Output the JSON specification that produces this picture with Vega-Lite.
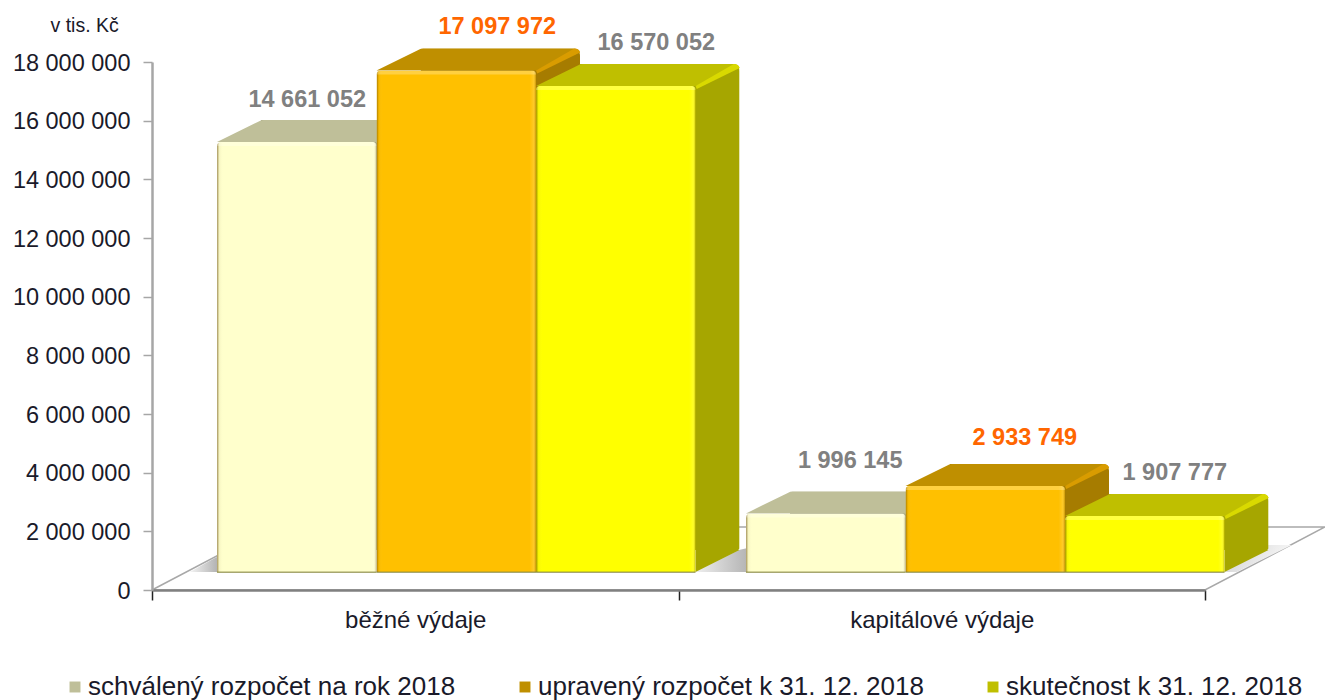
{
"$schema":"https://vega.github.io/schema/vega-lite/v6.json",
"width":1053,"height":528,
"autosize":"none",
"padding":{"left":152,"top":62,"right":120,"bottom":110},
"background":"white",
"config":{"view":{"stroke":null},"locale":{"number":{"decimal":",","thousands":" ","grouping":[3],"currency":["","Kč"]}},"font":"Liberation Sans"},
"datasets":{"d":[
{"category":"běžné výdaje","series":"schválený rozpočet na rok 2018","value":14661052},
{"category":"běžné výdaje","series":"upravený rozpočet k 31. 12. 2018","value":17097972},
{"category":"běžné výdaje","series":"skutečnost k 31. 12. 2018","value":16570052},
{"category":"kapitálové výdaje","series":"schválený rozpočet na rok 2018","value":1996145},
{"category":"kapitálové výdaje","series":"upravený rozpočet k 31. 12. 2018","value":2933749},
{"category":"kapitálové výdaje","series":"skutečnost k 31. 12. 2018","value":1907777}
]},
"data":{"name":"d"},
"resolve":{"scale":{"color":"independent","x":"independent","y":"independent"}},
"encoding":{
"x":{"field":"category","type":"nominal","axis":null,"scale":{"domain":["běžné výdaje","kapitálové výdaje"],"range":[39.75,1097.75],"paddingInner":0,"paddingOuter":0}},
"xOffset":{"field":"series","type":"nominal","scale":{"domain":["schválený rozpočet na rok 2018","upravený rozpočet k 31. 12. 2018","skutečnost k 31. 12. 2018"],"range":[0,529],"paddingInner":0,"paddingOuter":0.158}},
"y":{"field":"value","type":"quantitative","axis":null,"scale":{"domain":[0,18000000],"nice":false}}
},
"layer":[
{"transform":[{"filter":"datum.value===14661052"}],
 "mark":{"type":"point","filled":true,"opacity":1,"size":4,"fill":"white","stroke":"#a8a8a8","strokeWidth":1.5,"shape":"M-105,0L948,0L1068,-63L15,-63Z"},
 "encoding":{
 "x":{"field":"category","type":"nominal","scale":{"domain":["běžné výdaje","kapitálové výdaje"],"paddingInner":0,"paddingOuter":0},
 "axis":{"title":null,"labelAngle":0,"labelFontSize":24,"labelColor":"#1a1a2a","labelPadding":8,"labelLimit":400,"tickBand":"extent","tickSize":10,"tickColor":"#222222","tickWidth":1.5,"domainColor":"#808080","domainWidth":2.5,"zindex":1}},
 "y":{"datum":0,"type":"quantitative","scale":{"domain":[0,18000000],"nice":false},
 "axis":{"values":[0,2000000,4000000,6000000,8000000,10000000,12000000,14000000,16000000,18000000],"format":",d","title":"v tis. Kč","titleAngle":0,"titleX":-102,"titleY":-27,"titleFontSize":19.5,"titleFontWeight":"normal","titleColor":"#1a1a2a","titleAlign":"left","labelFontSize":23.5,"labelColor":"#1a1a2a","labelPadding":13,"labelOffset":1,"grid":false,"tickSize":9,"tickColor":"#a6a6a6","tickWidth":1.5,"domainColor":"#a6a6a6","domainWidth":2.5,"zindex":1}}}},
{"transform":[{"filter":"datum.value===14661052"}],
 "mark":{"type":"point","filled":true,"opacity":1,"size":4,"strokeWidth":0,"fill":{"gradient":"linear","x1":0,"y1":0,"x2":1,"y2":0,"stops":[{"offset":0,"color":"#f4f4f4"},{"offset":1,"color":"#a8a8a8"}]},"shape":"M-107,-18L-80,-33L-75,-18Z"},
 "encoding":{"y":{"datum":0,"type":"quantitative","axis":null,"scale":{"domain":[0,18000000],"nice":false}}}},
{"transform":[{"filter":"datum.value===14661052"}],
 "mark":{"type":"point","filled":true,"opacity":1,"size":4,"strokeWidth":0,"fill":{"gradient":"linear","x1":0,"y1":0,"x2":1,"y2":0,"stops":[{"offset":0,"color":"#f0f0f0"},{"offset":1,"color":"#b4b4b4"}]},"shape":"M398,-18L442,-40L451,-42L451,-18Z"},
 "encoding":{"y":{"datum":0,"type":"quantitative","axis":null,"scale":{"domain":[0,18000000],"nice":false}}}},
{"transform":[{"filter":"datum.value===14661052"}],
 "mark":{"type":"point","filled":true,"opacity":1,"size":4,"strokeWidth":0,"fill":{"gradient":"linear","x1":0,"y1":0,"x2":1,"y2":0.3,"stops":[{"offset":0,"color":"#d0d0d0"},{"offset":1,"color":"#f8f8f8"}]},"shape":"M927,-18L971,-45L995,-45L940,-18Z"},
 "encoding":{"y":{"datum":0,"type":"quantitative","axis":null,"scale":{"domain":[0,18000000],"nice":false}}}},
{"mark":{"type":"bar","cornerRadiusTopRight":7,"cornerRadiusBottomRight":2},
 "encoding":{"x":{"field":"category","type":"nominal","axis":null,"scale":{"domain":["běžné výdaje","kapitálové výdaje"],"range":[83.75,1141.75],"paddingInner":0,"paddingOuter":0}},
 "y":{"field":"value","type":"quantitative","axis":null,"scale":{"domain":[-1363636,16636364],"nice":false,"zero":false}},
 "color":{"field":"series","type":"nominal","legend":null,"scale":{"domain":["schválený rozpočet na rok 2018","upravený rozpočet k 31. 12. 2018","skutečnost k 31. 12. 2018"],"range":["#A6A685","#A67C00","#A6A600"]}}}},
{"mark":{"type":"point","filled":true,"opacity":1,"size":4,"strokeWidth":0,"shape":"M79.75,-18L123.75,-40L79.75,-40Z"},
 "encoding":{"y":{"datum":0,"type":"quantitative","axis":null,"scale":{"domain":[0,18000000],"nice":false}},"color":{"field":"series","type":"nominal","legend":null,"scale":{"domain":["schválený rozpočet na rok 2018","upravený rozpočet k 31. 12. 2018","skutečnost k 31. 12. 2018"],"range":["#A6A685","#A67C00","#A6A600"]}}}},
{"mark":{"type":"point","filled":true,"opacity":1,"size":4,"strokeWidth":0,"shape":"M-79.75,-18L-39,-38Q-36,-40 -33,-40L117,-40Q123,-40 123.75,-36L79.75,-18Z"},
 "encoding":{"color":{"field":"series","type":"nominal","scale":{"domain":["schválený rozpočet na rok 2018","upravený rozpočet k 31. 12. 2018","skutečnost k 31. 12. 2018"],"range":["#BFBF99","#BF8F00","#BFBF00"]},
 "legend":{"title":null,"orient":"none","legendX":-90,"legendY":612,"direction":"horizontal","columns":3,"gridAlign":"none","columnPadding":56,"labelFontSize":26,"labelLimit":600,"labelColor":"#1a1a2a","labelOffset":0,"symbolType":"square","symbolSize":120,"symbolStrokeWidth":0,"symbolOpacity":1,"padding":0}}}},
{"mark":{"type":"point","filled":true,"opacity":1,"size":4,"strokeWidth":0,"shape":"M79.75,-18L118,-40Q123,-40 123.75,-36L81,-15Z"},
 "encoding":{"color":{"field":"series","type":"nominal","legend":null,"scale":{"domain":["schválený rozpočet na rok 2018","upravený rozpočet k 31. 12. 2018","skutečnost k 31. 12. 2018"],"range":["#D9D9AD","#D99C00","#D9D900"]}}}},
{"mark":{"type":"bar","cornerRadiusTopLeft":4,"cornerRadiusTopRight":4},
 "encoding":{"y":{"field":"value","type":"quantitative","axis":null,"scale":{"domain":[-613636,17386364],"nice":false,"zero":false}},
 "color":{"field":"series","type":"nominal","legend":null,"scale":{"domain":["schválený rozpočet na rok 2018","upravený rozpočet k 31. 12. 2018","skutečnost k 31. 12. 2018"],"range":["#FFFFCC","#FFC000","#FFFF00"]}}}},
{"mark":{"type":"bar","cornerRadiusTopLeft":4,"cornerRadiusTopRight":4,"fill":{"gradient":"linear","x1":0,"y1":0,"x2":1,"y2":0,"stops":[{"offset":0,"color":"rgba(90,60,0,0.55)"},{"offset":0.015,"color":"rgba(90,60,0,0.05)"},{"offset":0.04,"color":"rgba(255,255,255,0)"},{"offset":0.96,"color":"rgba(255,255,255,0)"},{"offset":0.985,"color":"rgba(255,255,255,0.15)"},{"offset":1,"color":"rgba(90,60,0,0.35)"}]}},
 "encoding":{"y":{"field":"value","type":"quantitative","axis":null,"scale":{"domain":[-613636,17386364],"nice":false,"zero":false}}}},
{"mark":{"type":"point","filled":true,"opacity":0.25,"size":4,"strokeWidth":0,"fill":"white","shape":"M-75.75,-18L75.75,-18Q79.75,-18 79.75,-14L-79.75,-14Q-79.75,-18 -75.75,-18Z"}},
{"mark":{"type":"point","filled":true,"opacity":0.75,"size":4,"strokeWidth":0,"fill":"#8a8a40","shape":"M-79.75,-18.5L79.75,-18.5L79.75,-17L-79.75,-17Z"},"encoding":{"y":{"datum":0,"type":"quantitative","axis":null,"scale":{"domain":[0,18000000],"nice":false}}}},
{"transform":[{"filter":"datum.value===14661052"}],"mark":{"type":"text","dx":10.5,"dy":-60,"fontSize":23.5,"fontWeight":"bold","fill":"#808080"},"encoding":{"text":{"field":"value","type":"quantitative","format":",d"}}},
{"transform":[{"filter":"datum.value===17097972"}],"mark":{"type":"text","dx":41,"dy":-61.5,"fontSize":23.5,"fontWeight":"bold","fill":"#FF6600"},"encoding":{"text":{"field":"value","type":"quantitative","format":",d"}}},
{"transform":[{"filter":"datum.value===16570052"}],"mark":{"type":"text","dx":40.5,"dy":-61,"fontSize":23.5,"fontWeight":"bold","fill":"#808080"},"encoding":{"text":{"field":"value","type":"quantitative","format":",d"}}},
{"transform":[{"filter":"datum.value===1996145"}],"mark":{"type":"text","dx":24.5,"dy":-70,"fontSize":23.5,"fontWeight":"bold","fill":"#808080"},"encoding":{"text":{"field":"value","type":"quantitative","format":",d"}}},
{"transform":[{"filter":"datum.value===2933749"}],"mark":{"type":"text","dx":39.5,"dy":-66,"fontSize":23.5,"fontWeight":"bold","fill":"#FF6600"},"encoding":{"text":{"field":"value","type":"quantitative","format":",d"}}},
{"transform":[{"filter":"datum.value===1907777"}],"mark":{"type":"text","dx":30,"dy":-61,"fontSize":23.5,"fontWeight":"bold","fill":"#808080"},"encoding":{"text":{"field":"value","type":"quantitative","format":",d"}}}
]
}
